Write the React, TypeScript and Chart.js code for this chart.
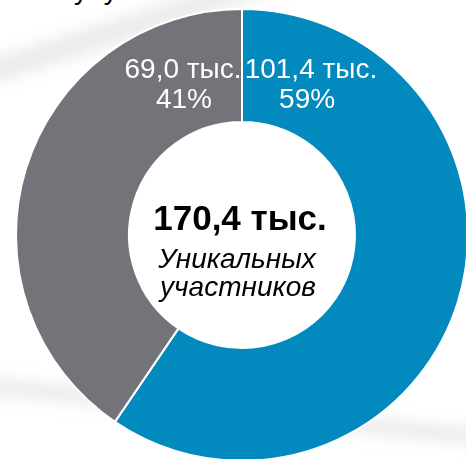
import React, { useEffect, useRef } from "react";
import { Chart, registerables } from "chart.js";

Chart.register(...registerables);

const categories = ["Группа A", "Группа B"];
const values = [101.4, 69.0];
const percentLabels = ["59%", "41%"];
const unitLabel = "тыс.";
const centerSubtitle = ["Уникальных", "участников"];
const colors = ["#0289bd", "#727479"];

const fmt = (v: number) => v.toFixed(1).replace(".", ",") + " " + unitLabel;

export default function App() {
  const ref = useRef<HTMLCanvasElement | null>(null);

  useEffect(() => {
    document.body.style.margin = "0";
    const canvas = ref.current!;
    const total = values.reduce((a, b) => a + b, 0);

    const labelPlugin = {
      id: "labels",
      afterDraw(chart: any) {
        const ctx = chart.ctx;
        const arc = chart.getDatasetMeta(0).data[0];
        const cx = arc.x;
        const cy = arc.y;
        const R = arc.outerRadius;
        ctx.save();
        ctx.textAlign = "center";
        ctx.textBaseline = "alphabetic";
        // segment labels
        ctx.fillStyle = "#ffffff";
        ctx.font = "28px 'Liberation Sans', Arial, sans-serif";
        const offs = [
          { x: 0.305, px: 0.288 },
          { x: -0.261, px: -0.257 },
        ];
        values.forEach((v, i) => {
          ctx.fillText(fmt(v), cx + offs[i].x * R, cy - 0.695 * R);
          ctx.fillText(percentLabels[i], cx + offs[i].px * R, cy - 0.562 * R);
        });
        // center labels
        ctx.fillStyle = "#000000";
        ctx.font = "bold 35px 'Liberation Sans', Arial, sans-serif";
        ctx.fillText(fmt(total), cx - 2, cy - 5);
        ctx.font = "italic 28px 'Liberation Sans', Arial, sans-serif";
        ctx.fillText(centerSubtitle[0], cx - 5, cy + 33);
        ctx.fillText(centerSubtitle[1], cx - 4, cy + 61);
        ctx.restore();
      },
    };

    const chart = new Chart(canvas, {
      type: "doughnut",
      data: {
        labels: categories,
        datasets: [
          {
            data: values,
            backgroundColor: colors,
            borderColor: "#ffffff",
            borderWidth: 2,
          },
        ],
      },
      options: {
        responsive: false,
        animation: false,
        cutout: "50%",
        layout: { padding: 8 },
        plugins: {
          legend: { display: false },
          tooltip: { enabled: false },
        },
      },
      plugins: [labelPlugin],
    });
    return () => chart.destroy();
  }, []);

  return (
    <div
      style={{
        position: "fixed",
        left: 0,
        top: 0,
        width: 466,
        height: 459,
        overflow: "hidden",
        background: "#ffffff",
      }}
    >
      <div
        style={{
          position: "absolute",
          left: -60,
          top: 10,
          width: 360,
          height: 40,
          transform: "rotate(-18deg)",
          background:
            "linear-gradient(180deg, rgba(230,230,230,0) 0%, rgba(225,225,225,0.8) 50%, rgba(230,230,230,0) 100%)",
          filter: "blur(6px)",
        }}
      />
      <div
        style={{
          position: "absolute",
          left: -40,
          top: 395,
          width: 520,
          height: 30,
          transform: "rotate(6deg)",
          background:
            "linear-gradient(180deg, rgba(230,230,230,0) 0%, rgba(228,228,228,0.8) 50%, rgba(230,230,230,0) 100%)",
          filter: "blur(6px)",
        }}
      />
      <div
        style={{
          position: "absolute",
          left: 74,
          top: -26,
          fontFamily: "'Liberation Sans', Arial, sans-serif",
          fontSize: 28,
          color: "#000",
          wordSpacing: 8,
          whiteSpace: "nowrap",
        }}
      >
        у у
      </div>
      <canvas
        ref={ref}
        width={484}
        height={470}
        style={{ position: "absolute", left: 0, top: 0 }}
      />
    </div>
  );
}
